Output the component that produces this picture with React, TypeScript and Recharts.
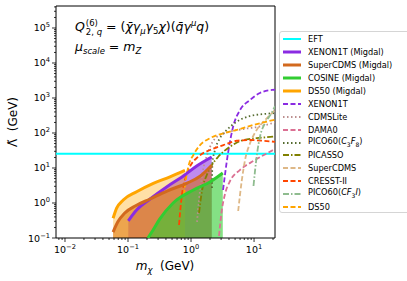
import React from "react";
import { Area, ComposedChart, Line, ReferenceArea, ReferenceLine, XAxis, YAxis } from "recharts";

const FONT = "DejaVu Sans, sans-serif";

// axes
const xDomain = [0.0072, 21.5];
const yDomain = [0.1, 4.25e5];
const xMajor = [0.01, 0.1, 1, 10];
const yMajor = [0.1, 1, 10, 100, 1000, 10000, 100000];
const minorSteps = [2, 3, 4, 5, 6, 7, 8, 9];

const eftLambda = 25.5;

// Migdal limits (filled)
const ds50MigM = [0.058, 0.066, 0.084, 0.137, 0.252, 0.464, 0.8];
const ds50MigL = [0.365, 0.71, 1.22, 2.1, 3.65, 5.6, 8.6];
const scdmsMigM = [0.058, 0.069, 0.089, 0.13, 0.224, 0.415, 0.865, 1.39, 2.13];
const scdmsMigL = [0.148, 0.29, 0.52, 0.82, 1.3, 2.2, 3.7, 5.8, 12];
const xenonMigM = [0.101, 0.137, 0.224, 0.41, 0.755, 1.23, 2.13];
const xenonMigL = [0.31, 0.63, 1.3, 2.87, 5.9, 11.4, 20.6];
const cosineMigM = [0.207, 0.25, 0.32, 0.52, 1.09, 2.0, 3.19];
const cosineMigL = [0.1, 0.17, 0.35, 1.0, 2.35, 4.0, 7.2];

// standard limits
const xenonM = [3.22, 3.87, 4.64, 6.0, 8.6, 12.4, 19.3, 21.5];
const xenonL = [2.35, 27, 148, 455, 875, 1390, 1700, 1720];
const cdmsLiteM = [1.245, 1.34, 1.5, 1.8, 2.56, 4.16, 6.77, 11, 21.5];
const cdmsLiteL = [0.29, 1.22, 6.3, 23.5, 77, 109, 130, 148, 200];
const damaM = [2.78, 3.05, 3.46, 4.16, 6.0, 9.7, 15.9, 21.5];
const damaL = [0.114, 0.55, 1.8, 4.25, 8.8, 15.8, 26, 35];
const pico3f8M = [2.15, 2.18, 2.4, 2.89, 3.69, 5.3, 8.6, 14, 21.5];
const pico3f8L = [2.7, 13.6, 32.6, 72, 122, 210, 306, 347, 370];
const picassoM = [1.34, 1.5, 1.78, 2.15, 2.68, 4.16, 6.77, 11, 21.5];
const picassoL = [0.52, 2.35, 6.3, 12.2, 20.6, 40.6, 63, 71, 79];
const scdmsM = [5.6, 6.4, 7.2, 8.6, 11, 15, 21.5];
const scdmsL = [0.59, 4.5, 17, 50, 122, 235, 455];
const cresstM = [0.645, 0.71, 0.8, 0.96, 1.3, 2.0, 3.26, 5.3, 8.6, 14, 21.5];
const cresstL = [0.235, 1.5, 4.5, 10.9, 21, 32.6, 45, 60, 63, 60, 56];
const picoCf3iM = [9.8, 10.4, 11.2, 12.4, 15, 19, 21.5];
const picoCf3iL = [3.06, 8.8, 27, 77, 194, 372, 590];
const ds50M = [0.775, 0.8, 0.906, 1.09, 1.39, 2.0, 3.26, 5.3, 9.7, 21.5];
const ds50L = [1.7, 2.9, 10.9, 23.5, 45, 71, 98, 122, 169, 240];

const zip = (m: number[], l: number[]) => m.map((x, i) => ({ m: x, v: l[i] }));

const DASHED = "5 2.5";
const DOTTED = "1.5 2.5";
const DASHDOT = "6 2 1.5 2";

// fill order: first drawn lies underneath
const filled = [
  { name: "XENON1T (Migdal)", data: zip(xenonMigM, xenonMigL), color: "#8a2be2", alpha: 0.55 },
  { name: "SuperCDMS (Migdal)", data: zip(scdmsMigM, scdmsMigL), color: "#d2691e", alpha: 0.6 },
  { name: "DS50 (Migdal)", data: zip(ds50MigM, ds50MigL), color: "#ffa500", alpha: 0.35 },
  { name: "COSINE (Migdal)", data: zip(cosineMigM, cosineMigL), color: "#32cd32", alpha: 0.6 },
];

const limits = [
  { name: "XENON1T", data: zip(xenonM, xenonL), color: "#8a2be2", dash: DASHED },
  { name: "CDMSLite", data: zip(cdmsLiteM, cdmsLiteL), color: "#bc8f8f", dash: DOTTED },
  { name: "DAMA0", data: zip(damaM, damaL), color: "#db7093", dash: DASHED },
  { name: "PICO60(C3F8)", data: zip(pico3f8M, pico3f8L), color: "#556b2f", dash: DOTTED },
  { name: "PICASSO", data: zip(picassoM, picassoL), color: "#808000", dash: DASHDOT },
  { name: "SuperCDMS", data: zip(scdmsM, scdmsL), color: "#deb887", dash: DASHED },
  { name: "CRESST-II", data: zip(cresstM, cresstL), color: "#ff4500", dash: DASHED },
  { name: "PICO60(CF3I)", data: zip(picoCf3iM, picoCf3iL), color: "#8fbc8f", dash: DASHDOT },
  { name: "DS50", data: zip(ds50M, ds50L), color: "#ffa500", dash: DASHED },
];

const decades = (lo: number, hi: number) => {
  const out: number[] = [];
  for (let k = lo; k <= hi; k++) out.push(Math.pow(10, k));
  return out;
};
const withMinor = (majors: number[], dom: number[], lo: number, hi: number) =>
  majors
    .concat(decades(lo, hi).flatMap((d) => minorSteps.map((s) => s * d)))
    .filter((v) => v >= dom[0] && v <= dom[1]);

const xTicks = withMinor(xMajor, xDomain, -3, 1);
const yTicks = withMinor(yMajor, yDomain, -1, 5);

const W = 407;
const H = 281;
const LEFT = 56;
const TOP = 6;
const RIGHT = 275;
const BOTTOM = 238;

const expLabel = (v: number) => {
  const e = Math.round(Math.log10(v));
  return e < 0 ? "\u2212" + Math.abs(e) : String(e);
};

function XTick(props: any) {
  const { x, payload } = props;
  const major = xMajor.includes(payload.value);
  return (
    <g>
      <line x1={x} x2={x} y1={BOTTOM} y2={BOTTOM + (major ? 4 : 2)} stroke="#000" strokeWidth={0.8} />
      {major && (
        <text x={x} y={BOTTOM + 15} textAnchor="middle" fontSize={9.5} fontFamily={FONT} fill="#000">
          10
          <tspan dy={-4} fontSize={6.7}>
            {expLabel(payload.value)}
          </tspan>
        </text>
      )}
    </g>
  );
}

function YTick(props: any) {
  const { y, payload } = props;
  const major = yMajor.includes(payload.value);
  return (
    <g>
      <line x1={LEFT - (major ? 4 : 2)} x2={LEFT} y1={y} y2={y} stroke="#000" strokeWidth={0.8} />
      {major && (
        <text x={LEFT - 6} y={y + 3.5} textAnchor="end" fontSize={9.5} fontFamily={FONT} fill="#000">
          10
          <tspan dy={-4} fontSize={6.7}>
            {expLabel(payload.value)}
          </tspan>
        </text>
      )}
    </g>
  );
}

function XLabel() {
  return (
    <text x={165} y={270} textAnchor="middle" fontSize={12} fontFamily={FONT} fill="#000">
      <tspan fontStyle="italic">m</tspan>
      <tspan dy={3} fontSize={8.5} fontStyle="italic">
        χ
      </tspan>
      <tspan dy={-3}>{"\u00a0\u00a0(GeV)"}</tspan>
    </text>
  );
}

function YLabel() {
  return (
    <text
      x={0}
      y={0}
      transform="translate(17,122) rotate(-90)"
      textAnchor="middle"
      fontSize={12}
      fontFamily={FONT}
      fill="#000"
    >
      {"Λ\u0303\u00a0\u00a0(GeV)"}
    </text>
  );
}

const legendItems: { label: React.ReactNode; color: string; w: number; dash?: string }[] = [
  { label: "EFT", color: "#00ffff", w: 2 },
  { label: "XENON1T (Migdal)", color: "#8a2be2", w: 3 },
  { label: "SuperCDMS (Migdal)", color: "#d2691e", w: 3 },
  { label: "COSINE (Migdal)", color: "#32cd32", w: 3 },
  { label: "DS50 (Migdal)", color: "#ffa500", w: 3 },
  { label: "XENON1T", color: "#8a2be2", w: 1.8, dash: DASHED },
  { label: "CDMSLite", color: "#bc8f8f", w: 1.8, dash: DOTTED },
  { label: "DAMA0", color: "#db7093", w: 1.8, dash: DASHED },
  {
    label: (
      <>
        PICO60(<i>C</i>
        <sub style={{ fontSize: 6 }}>3</sub>
        <i>F</i>
        <sub style={{ fontSize: 6 }}>8</sub>)
      </>
    ),
    color: "#556b2f",
    w: 1.8,
    dash: DOTTED,
  },
  { label: "PICASSO", color: "#808000", w: 1.8, dash: DASHDOT },
  { label: "SuperCDMS", color: "#deb887", w: 1.8, dash: DASHED },
  { label: "CRESST-II", color: "#ff4500", w: 1.8, dash: DASHED },
  {
    label: (
      <>
        PICO60(<i>CF</i>
        <sub style={{ fontSize: 6 }}>3</sub>
        <i>I</i>)
      </>
    ),
    color: "#8fbc8f",
    w: 1.8,
    dash: DASHDOT,
  },
  { label: "DS50", color: "#ffa500", w: 1.8, dash: DASHED },
];

function LegendBox() {
  return (
    <div
      style={{
        position: "absolute",
        left: 279,
        top: 31,
        width: 140,
        height: 182,
        border: "1px solid #d5d5d5",
        borderRadius: 3,
        background: "rgba(255,255,255,0.8)",
        boxSizing: "border-box",
        fontFamily: FONT,
        fontSize: 8.2,
        paddingTop: 1,
      }}
    >
      {legendItems.map((it, i) => (
        <div key={i} style={{ height: 12.9, display: "flex", alignItems: "center", whiteSpace: "nowrap" }}>
          <svg width={28} height={10} style={{ flex: "none" }}>
            <line x1={3} x2={21} y1={5} y2={5} stroke={it.color} strokeWidth={it.w} strokeDasharray={it.dash} />
          </svg>
          <span style={{ lineHeight: "10px" }}>{it.label}</span>
        </div>
      ))}
    </div>
  );
}

function Annotation() {
  const sub = { fontSize: 8.5, verticalAlign: "-3px" };
  const sup = { fontSize: 8.5, verticalAlign: "5px" };
  return (
    <div style={{ position: "absolute", left: 75, top: 18, fontFamily: FONT, fontSize: 12.5, whiteSpace: "nowrap" }}>
      <div>
        <i>Q</i>
        <span
          style={{
            display: "inline-flex",
            flexDirection: "column",
            fontSize: 8.5,
            lineHeight: "9px",
            verticalAlign: "5px",
            marginLeft: 1,
          }}
        >
          <span>(6)</span>
          <span>
            2, <i>q</i>
          </span>
        </span>
        {" = ("}
        <i>{"χ\u0304γ"}</i>
        <span style={sub}>
          <i>μ</i>
        </span>
        <i>γ</i>
        <span style={sub}>5</span>
        <i>χ</i>
        {")("}
        <i>{"q\u0304γ"}</i>
        <span style={sup}>
          <i>μ</i>
        </span>
        <i>q</i>
        {")"}
      </div>
      <div style={{ marginTop: 2 }}>
        <i>μ</i>
        <span style={sub}>
          <i>scale</i>
        </span>
        {" = "}
        <i>m</i>
        <span style={sub}>
          <i>Z</i>
        </span>
      </div>
    </div>
  );
}

export default function App() {
  return (
    <div style={{ position: "absolute", left: 0, top: 0, width: W, height: H, background: "#fff", overflow: "hidden" }}>
      <ComposedChart
        width={W}
        height={H}
        margin={{ top: TOP, right: W - RIGHT, bottom: 0, left: 0 }}
      >
        <XAxis
          dataKey="m"
          type="number"
          scale="log"
          domain={xDomain}
          allowDataOverflow
          ticks={xTicks}
          interval={0}
          tick={<XTick />}
          tickLine={false}
          axisLine={false}
          height={H - BOTTOM}
          label={<XLabel />}
        />
        <YAxis
          dataKey="v"
          type="number"
          scale="log"
          domain={yDomain}
          allowDataOverflow
          ticks={yTicks}
          interval={0}
          tick={<YTick />}
          tickLine={false}
          axisLine={false}
          width={LEFT}
          label={<YLabel />}
        />
        {filled.map((s) => (
          <Area
            key={"a" + s.name}
            data={s.data}
            dataKey="v"
            type="monotone"
            baseValue={yDomain[0]}
            stroke="none"
            fill={s.color}
            fillOpacity={s.alpha}
            isAnimationActive={false}
          />
        ))}
        <ReferenceLine y={eftLambda} stroke="#00ffff" strokeWidth={2} />
        {limits.map((s) => (
          <Line
            key={s.name}
            data={s.data}
            dataKey="v"
            type="monotone"
            stroke={s.color}
            strokeWidth={1.8}
            strokeDasharray={s.dash}
            dot={false}
            isAnimationActive={false}
          />
        ))}
        {filled.map((s) => (
          <Line
            key={"l" + s.name}
            data={s.data}
            dataKey="v"
            type="monotone"
            stroke={s.color}
            strokeWidth={3}
            dot={false}
            isAnimationActive={false}
          />
        ))}
        <ReferenceArea
          x1={xDomain[0]}
          x2={xDomain[1]}
          y1={yDomain[0]}
          y2={yDomain[1]}
          fill="none"
          stroke="#000"
          strokeWidth={1}
        />
      </ComposedChart>
      <Annotation />
      <LegendBox />
    </div>
  );
}
